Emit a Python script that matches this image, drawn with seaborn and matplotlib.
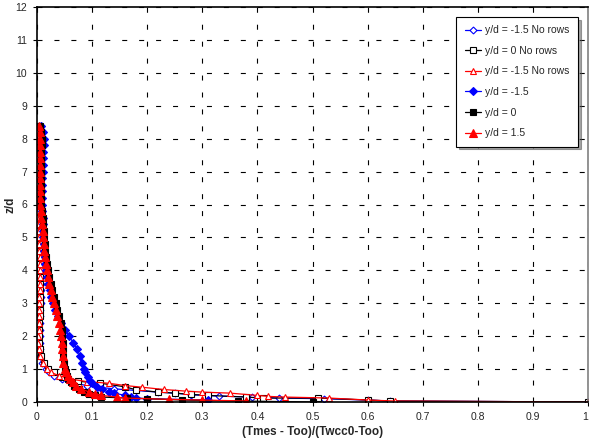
import matplotlib
matplotlib.use("Agg")
import matplotlib.pyplot as plt
import seaborn as sns
import pandas as pd
from matplotlib.ticker import FuncFormatter

# ---------------- data ----------------
z_upper = [8.4, 8.2, 8.0, 7.8, 7.6, 7.4, 7.2, 7.0, 6.8, 6.6, 6.4, 6.2, 6.0, 5.8, 5.6,
           5.4, 5.2, 5.0, 4.8, 4.6, 4.4, 4.2, 4.0, 3.8, 3.6, 3.4, 3.2, 3.0, 2.8, 2.6,
           2.4, 2.2, 2.0, 1.8, 1.6, 1.4, 1.2, 1.0]

# y/d = -1.5 No rows (open blue diamonds)
x_obd_up = [0.004, 0.006, 0.008, 0.008, 0.007, 0.006, 0.006, 0.005, 0.005, 0.005, 0.004,
            0.004, 0.004, 0.004, 0.004, 0.005, 0.005, 0.006, 0.006, 0.007, 0.007, 0.007,
            0.007, 0.008, 0.008, 0.007, 0.007, 0.007, 0.006, 0.006, 0.006, 0.005, 0.005,
            0.005, 0.005, 0.006, 0.009, 0.016]
z_obd_tail = [0.9, 0.8, 0.7, 0.6, 0.5, 0.45, 0.4, 0.35, 0.3, 0.27, 0.22, 0.18, 0.15, 0.12,
              0.1, 0.06, 0.03, 0.0]
x_obd_tail = [0.022, 0.03, 0.045, 0.06, 0.09, 0.11, 0.14, 0.18, 0.22, 0.25, 0.28, 0.33,
              0.39, 0.44, 0.52, 0.60, 0.64, 1.0]

# y/d = 0 No rows (open black squares)
x_obs_up = [0.003, 0.004, 0.005, 0.005, 0.005, 0.004, 0.004, 0.004, 0.004, 0.003, 0.003,
            0.003, 0.003, 0.003, 0.003, 0.004, 0.004, 0.004, 0.005, 0.005, 0.005, 0.005,
            0.006, 0.006, 0.006, 0.006, 0.006, 0.005, 0.005, 0.005, 0.004, 0.004, 0.004,
            0.004, 0.005, 0.007, 0.012, 0.02]
z_obs_tail = [0.9, 0.77, 0.63, 0.57, 0.46, 0.37, 0.3, 0.27, 0.23, 0.2, 0.15, 0.12, 0.12,
              0.06, 0.03, 0.0]
x_obs_tail = [0.03, 0.045, 0.075, 0.115, 0.16, 0.18, 0.22, 0.25, 0.28, 0.31, 0.38, 0.41,
              0.51, 0.6, 0.64, 1.0]

# y/d = -1.5 No rows (open red triangles)
x_ort_up = [0.002, 0.003, 0.004, 0.004, 0.004, 0.003, 0.003, 0.003, 0.003, 0.003, 0.002,
            0.002, 0.002, 0.002, 0.003, 0.003, 0.003, 0.004, 0.004, 0.004, 0.005, 0.005,
            0.005, 0.005, 0.005, 0.005, 0.004, 0.004, 0.004, 0.003, 0.003, 0.003, 0.002,
            0.002, 0.003, 0.005, 0.01, 0.018]
z_ort_tail = [0.9, 0.8, 0.7, 0.62, 0.57, 0.5, 0.45, 0.38, 0.33, 0.3, 0.27, 0.2, 0.17, 0.15,
              0.12, 0.06, 0.03, 0.0]
x_ort_tail = [0.025, 0.04, 0.06, 0.09, 0.13, 0.16, 0.19, 0.23, 0.27, 0.30, 0.35, 0.40,
              0.42, 0.45, 0.53, 0.6, 0.65, 1.0]

# y/d = -1.5 (filled blue diamonds)
x_fbd_up = [0.008, 0.010, 0.012, 0.012, 0.011, 0.011, 0.010, 0.010, 0.009, 0.009, 0.009,
            0.009, 0.009, 0.009, 0.010, 0.010, 0.011, 0.011, 0.012, 0.013, 0.014, 0.015,
            0.016, 0.018, 0.020, 0.023, 0.026, 0.029, 0.033, 0.038, 0.044, 0.051, 0.058,
            0.066, 0.073, 0.078, 0.082, 0.085]
z_fbd_tail = [0.9, 0.77, 0.65, 0.57, 0.46, 0.38, 0.3, 0.27, 0.2, 0.15, 0.12, 0.1, 0.06]
x_fbd_tail = [0.088, 0.092, 0.096, 0.1, 0.108, 0.118, 0.13, 0.14, 0.16, 0.17, 0.18, 0.2, 0.31]

# y/d = 0 (filled black squares)
x_fbs_up = [0.006, 0.008, 0.009, 0.009, 0.008, 0.008, 0.008, 0.008, 0.007, 0.007, 0.007,
            0.007, 0.008, 0.009, 0.010, 0.011, 0.012, 0.013, 0.014, 0.015, 0.016, 0.018,
            0.020, 0.022, 0.025, 0.028, 0.031, 0.034, 0.037, 0.040, 0.043, 0.045, 0.046,
            0.047, 0.047, 0.048, 0.049, 0.050]
z_fbs_tail = [0.9, 0.8, 0.7, 0.6, 0.5, 0.4, 0.3, 0.25, 0.2, 0.15, 0.12, 0.1, 0.06, 0.03, 0.0]
x_fbs_tail = [0.052, 0.054, 0.057, 0.062, 0.068, 0.076, 0.085, 0.095, 0.105, 0.117, 0.163,
              0.2, 0.263, 0.365, 0.5]

# y/d = 1.5 (filled red triangles)
x_frt_up = [0.004, 0.005, 0.006, 0.006, 0.005, 0.005, 0.005, 0.005, 0.005, 0.005, 0.005,
            0.005, 0.006, 0.007, 0.008, 0.009, 0.010, 0.011, 0.012, 0.013, 0.014, 0.016,
            0.018, 0.020, 0.022, 0.025, 0.028, 0.031, 0.034, 0.037, 0.040, 0.042, 0.044,
            0.045, 0.046, 0.047, 0.048, 0.050]
z_frt_tail = [0.9, 0.8, 0.7, 0.6, 0.5, 0.4, 0.3, 0.25, 0.2, 0.15, 0.12, 0.08, 0.06, 0.03]
x_frt_tail = [0.053, 0.056, 0.06, 0.065, 0.07, 0.08, 0.095, 0.105, 0.117, 0.145, 0.16,
              0.24, 0.3, 0.38]

labels = ["y/d = -1.5 No rows", "y/d = 0 No rows", "y/d = -1.5 No rows",
          "y/d = -1.5", "y/d = 0", "y/d = 1.5"]
x_ticks = [0, 0.1, 0.2, 0.3, 0.4, 0.5, 0.6, 0.7, 0.8, 0.9, 1.0]
y_ticks = [0, 1, 2, 3, 4, 5, 6, 7, 8, 9, 10, 11, 12]

series = [
    (labels[0], x_obd_up + x_obd_tail, z_upper + z_obd_tail),
    (labels[1], x_obs_up + x_obs_tail, z_upper + z_obs_tail),
    (labels[2], x_ort_up + x_ort_tail, z_upper + z_ort_tail),
    (labels[3], x_fbd_up + x_fbd_tail, z_upper + z_fbd_tail),
    (labels[4], x_fbs_up + x_fbs_tail, z_upper + z_fbs_tail),
    (labels[5], x_frt_up + x_frt_tail, z_upper + z_frt_tail),
]

styles = [
    dict(color="#0000ff", marker="D", markersize=3.5, markerfacecolor="white"),
    dict(color="#000000", marker="s", markersize=4.5, markerfacecolor="white"),
    dict(color="#ff0000", marker="^", markersize=5, markerfacecolor="white"),
    dict(color="#0000ff", marker="D", markersize=3.8, markerfacecolor="#0000ff"),
    dict(color="#000000", marker="s", markersize=4.5, markerfacecolor="#000000"),
    dict(color="#ff0000", marker="^", markersize=5.5, markerfacecolor="#ff0000"),
]

# ---------------- plot ----------------
sns.set_style("ticks")
plt.rcParams["font.family"] = ["Liberation Sans", "DejaVu Sans"]
plt.rcParams["lines.scale_dashes"] = False

fig = plt.figure(figsize=(5.89, 4.45), dpi=100)
ax = fig.add_axes([37 / 589, 43 / 445, 551 / 589, 395 / 445])

for (lab, xs, zs), st in zip(series, styles):
    df = pd.DataFrame({"x": xs, "z": zs})
    sns.lineplot(data=df, x="x", y="z", sort=False, estimator=None, ax=ax,
                 label=lab, color=st["color"], marker=st["marker"],
                 markersize=st["markersize"], markerfacecolor=st["markerfacecolor"],
                 markeredgecolor=st["color"], markeredgewidth=0.8, linewidth=0.9)

ax.set_xlim(0, 1)
ax.set_ylim(0, 12)
ax.set_xticks(x_ticks)
ax.set_yticks(y_ticks)
fmt = FuncFormatter(lambda v, p: f"{v:g}")
ax.xaxis.set_major_formatter(fmt)
ax.yaxis.set_major_formatter(fmt)
ax.tick_params(axis="both", labelsize=7.5, length=3, width=0.8, color="black",
               pad=4, direction="out")
ax.grid(True, color="black", linewidth=0.8, linestyle=(0, (3.6, 8.6)))

fig.canvas.draw()
last = ax.get_xticklabels()[-1]
last.set_horizontalalignment("right")

for side in ["left", "bottom", "top"]:
    ax.spines[side].set_visible(True)
    ax.spines[side].set_color("black")
    ax.spines[side].set_linewidth(1.2)
ax.spines["right"].set_visible(True)
ax.spines["right"].set_color("#808080")
ax.spines["right"].set_linewidth(1.2)

ax.set_xlabel("(Tmes - Too)/(Twcc0-Too)", fontsize=8.5, fontweight="bold", labelpad=3)
ax.set_ylabel("z/d", fontsize=8.5, fontweight="bold", labelpad=-1)

leg = ax.legend(loc="upper right", bbox_to_anchor=(0.982, 0.975), fontsize=7.5,
                frameon=True, fancybox=False, shadow=True, framealpha=1,
                edgecolor="black", handlelength=1.6, labelspacing=1.02,
                borderpad=0.8, handletextpad=0.4, borderaxespad=0)
leg.get_frame().set_linewidth(0.8)

fig.savefig("out.png", dpi=100)
